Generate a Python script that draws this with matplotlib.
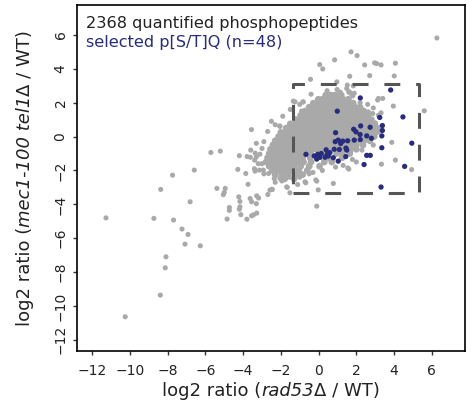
import matplotlib
matplotlib.use("Agg")
import matplotlib.pyplot as plt
from matplotlib.transforms import IdentityTransform

plt.rcParams['font.family'] = ['DejaVu Sans']

# ---------------- data ----------------
x_ticks = [-12, -10, -8, -6, -4, -2, 0, 2, 4, 6]
y_ticks = [-12, -10, -8, -6, -4, -2, 0, 2, 4, 6]

# sparse gray phosphopeptides (outliers / halo)
gray_x = [6.27, 1.72, 2.04, 0.85, 0.06, 0.22, 2.44, 2.97, 3.31, 4.07, 1.65, 2.71, 4.01, -0.43,
          0.97, 1.52, 5.60, -1.34, -0.84, 3.13, 3.40, 3.96, 0.98, 1.60, 1.89, -3.56, -2.05,
          -5.71, -5.21, -4.20, -3.79, -3.62, -3.36, -3.11, -3.39, -2.72, -4.28, -3.86, -3.37,
          -3.14, -2.93, -2.65, -3.74, -7.74, -6.59, -8.37, -5.39, -4.95, -5.05, -5.00, -6.81,
          -4.23, -4.17, -3.63, -3.18, -3.30, -4.73, -4.73, -4.20, -4.17, -2.69, -2.58, -2.45,
          -8.73, -7.69, -7.24, -4.85, -4.12, -3.80, -3.45, -3.28, -3.55, -11.27, -6.92, -7.08,
          -6.27, -8.09, -8.13, -8.39, -10.25, -2.05, -1.66, -1.69, -1.52, -1.11, -0.10, -2.06,
          3.31, 2.87, 3.17, 3.88, 4.07, 3.33, 1.60, 1.79, 4.93,
          -0.46, 0.34, 0.60, 0.78, 1.49, 1.84, 1.63, 1.72, 1.81, 3.17, 2.64, 2.90, 3.17,
          -1.25, -0.81, 3.08, -0.10, 0.78, -0.72, -2.49, -3.28, -3.55, -0.15, -0.68, -0.02,
          1.55, -3.60, -3.30, -3.00, -3.40, -2.90, -2.90, -2.70, -3.00, -2.50, -1.90, -1.50,
          -1.00, -3.20, -2.30, -1.00, -0.50, 0.20, 0.90, 1.30, 2.00, 2.30, 2.90, 3.00, 2.60,
          2.20, -0.40, -0.90, -2.30, -3.30, -2.35, -1.95, -1.55, 1.15, 0.45, -0.30]
gray_y = [5.82, 5.00, 4.78, 4.53, 4.25, 3.99, 4.23, 4.35, 4.23, 4.33, 3.56, 3.60, 3.58, 3.38,
          3.23, 3.04, 1.52, 2.09, 2.04, 2.16, 2.25, 1.80, 2.78, 2.62, 2.56, 0.41, 0.60,
          -0.94, -0.86, -1.13, -1.18, -1.22, -0.98, -1.04, -1.39, -1.23, -1.94, -2.18, -2.04,
          -1.98, -1.98, -2.18, -2.82, -2.28, -1.98, -3.12, -3.06, -3.06, -3.43, -3.30, -3.85,
          -3.56, -3.83, -3.66, -3.63, -3.96, -4.19, -4.36, -4.29, -4.15, -3.42, -3.16, -3.12,
          -4.83, -4.93, -5.46, -4.87, -4.61, -4.88, -4.62, -4.52, -4.68, -4.80, -5.78, -6.35,
          -6.45, -7.10, -7.75, -9.36, -10.64, -2.47, -3.00, -2.97, -3.32, -2.83, -4.11, 0.63,
          1.40, 1.36, 0.28, -0.34, -1.39, -1.63, -1.92, -1.35, -1.95,
          1.56, 2.34, 2.28, 2.48, 2.84, 2.99, 2.64, 2.54, 2.40, 2.25, 1.46, 1.69, 1.26,
          2.05, 2.05, 4.31, -2.63, -2.77, -2.67, -3.12, -3.50, -3.85, -2.56, -2.73, -3.15,
          -1.85, -0.80, -1.20, -1.60, -1.90, -2.20, -0.30, 0.30, -0.70, 0.90, 1.20, 1.60,
          1.90, -1.60, -2.70, -2.40, -2.20, -2.00, -1.80, -1.70, -1.50, -0.80, -0.50, 0.80,
          1.90, 2.00, 2.50, 1.50, 0.70, -0.40, -2.48, -2.62, -2.40, 2.62, 2.71, -2.12]

# dense core of the gray cloud, one row per y level
core_row_y = [2.45, 2.2, 1.97, 1.73, 1.5, 1.25, 1.0, 0.75, 0.5, 0.25, 0.0, -0.25, -0.5,
              -0.75, -1.0, -1.25, -1.5, -1.75, -2.0, -2.25, -2.5]
core_row_x = [
    [0.38, 0.62, 0.9, 1.2],
    [-0.02, 0.2, 0.42, 0.63, 0.85, 1.05, 1.3, 1.58],
    [-0.28, -0.05, 0.15, 0.35, 0.55, 0.75, 0.95, 1.15, 1.35, 1.55, 1.83],
    [-0.5, -0.25, -0.05, 0.15, 0.35, 0.55, 0.75, 0.95, 1.15, 1.35, 1.55, 1.75, 1.95, 2.2],
    [-0.72, -0.5, -0.3, -0.1, 0.1, 0.3, 0.5, 0.7, 0.9, 1.1, 1.3, 1.5, 1.7, 1.9, 2.1, 2.4],
    [-0.95, -0.7, -0.5, -0.3, -0.1, 0.1, 0.3, 0.5, 0.7, 0.9, 1.1, 1.3, 1.5, 1.7, 1.9, 2.1,
     2.3, 2.6],
    [-1.2, -0.95, -0.75, -0.55, -0.35, -0.15, 0.05, 0.25, 0.45, 0.65, 0.85, 1.05, 1.25,
     1.45, 1.65, 1.85, 2.05, 2.25, 2.5, 2.8],
    [-1.5, -1.25, -1.05, -0.85, -0.65, -0.45, -0.25, -0.05, 0.15, 0.35, 0.55, 0.75, 0.95,
     1.15, 1.35, 1.55, 1.75, 1.95, 2.15, 2.4, 2.65, 2.98],
    [-1.72, -1.5, -1.3, -1.1, -0.9, -0.7, -0.5, -0.3, -0.1, 0.1, 0.3, 0.5, 0.7, 0.9, 1.1,
     1.3, 1.5, 1.7, 1.9, 2.1, 2.35, 2.6, 2.9, 3.12],
    [-2.0, -1.75, -1.55, -1.35, -1.15, -0.95, -0.75, -0.55, -0.35, -0.15, 0.05, 0.25, 0.45,
     0.65, 0.85, 1.05, 1.25, 1.45, 1.65, 1.9, 2.15, 2.45, 2.72, 3.02],
    [-2.12, -1.9, -1.7, -1.5, -1.3, -1.1, -0.9, -0.7, -0.5, -0.3, -0.1, 0.1, 0.3, 0.5, 0.7,
     0.9, 1.1, 1.3, 1.5, 1.75, 2.0, 2.3, 2.62, 2.95],
    [-2.3, -2.05, -1.85, -1.65, -1.45, -1.25, -1.05, -0.85, -0.65, -0.45, -0.25, -0.05,
     0.15, 0.35, 0.55, 0.75, 0.95, 1.2, 1.5, 1.8, 2.05, 2.4, 2.72],
    [-2.42, -2.2, -2.0, -1.8, -1.6, -1.4, -1.2, -1.0, -0.8, -0.6, -0.4, -0.2, 0.0, 0.2, 0.4,
     0.6, 0.85, 1.1, 1.4, 1.7, 2.0, 2.35],
    [-2.55, -2.3, -2.1, -1.9, -1.7, -1.5, -1.3, -1.1, -0.9, -0.7, -0.5, -0.3, -0.1, 0.15,
     0.6, 1.25, 1.7, 2.0],
    [-2.62, -2.4, -2.2, -2.0, -1.8, -1.6, -1.4, -1.2, -1.0, -0.8, -0.45, 0.3, 0.95, 1.25, 1.65],
    [-2.7, -2.5, -2.3, -2.1, -1.9, -1.7, -1.5, -1.3, -1.1, -0.85, -0.45, 0.55, 1.25],
    [-2.78, -2.55, -2.35, -2.15, -1.95, -1.75, -1.55, -1.35, -1.1, -0.8, -0.4, 0.3, 0.7],
    [-2.62, -2.4, -2.2, -2.0, -1.8, -1.55, -1.3, -0.95, -0.5, 0.05],
    [-2.45, -2.2, -1.95, -1.7, -1.4, -1.05, -0.6],
    [-2.3, -1.95, -1.6, -1.2, -0.85],
    [-1.8, -1.3],
]

# selected p[S/T]Q phosphopeptides (n=48)
blue_x = [3.82, 2.21, 0.99, 4.47, 3.24, 3.38, 3.38, 3.35, 2.23, 2.73, 1.86, 1.98, 2.20, 2.55,
          2.80, 2.21, 0.90, 0.88, 1.04, 1.28, 1.54, 1.89, 1.17, 4.94, 3.35, 0.83, 1.10, 1.45,
          1.49, 0.40, 0.46, 0.14, -0.67, -0.23, -0.10, 0.07, 0.34, 0.51, 0.78, 1.04, 1.44,
          2.55, 2.74, 2.41, 4.56, 3.31, -0.05, 0.60]
blue_y = [2.75, 2.28, 1.50, 1.16, 1.13, 0.65, 0.36, 0.04, 0.63, 0.55, 0.43, 0.28, 0.12, 0.04,
          -0.10, -0.18, 0.23, -0.30, -0.21, -0.27, -0.25, -0.21, -0.41, -0.39, -0.66, -0.75,
          -0.76, -0.68, -0.80, -0.78, -1.04, -1.00, -1.05, -1.14, -1.33, -1.23, -1.22, -1.15,
          -1.25, -1.45, -1.18, -1.11, -1.11, -1.65, -1.76, -2.98, -1.05, -0.95]

box_x = [-1.37, 5.34]
box_y = [-3.35, 3.08]

label_total = "2368 quantified phosphopeptides"
label_sel = "selected p[S/T]Q (n=48)"
xlabel_parts = [("log2 ratio (", "normal"), ("rad53", "italic"), ("\u0394 / WT)", "normal")]
ylabel_parts = [("log2 ratio (", "normal"), ("mec1-100 tel1", "italic"), ("\u0394 / WT)", "normal")]

# ---------------- figure ----------------
GRAY = '#a9a9a9'
BLUE = '#272d7c'
TXT = '#222222'

fig = plt.figure(figsize=(4.72, 4.17), dpi=100)
ax = fig.add_axes([77.3 / 472, 1 - 351 / 417, (465 - 77.3) / 472, (351 - 5.3) / 417])

cx, cy = [], []
for yv, xs in zip(core_row_y, core_row_x):
    cx.extend(xs)
    cy.extend([yv] * len(xs))

ax.scatter(cx, cy, s=24, c=GRAY, edgecolors='none', zorder=2)
ax.scatter(gray_x, gray_y, s=13.5, c=GRAY, edgecolors='none', zorder=2)
ax.scatter(blue_x, blue_y, s=14.5, c=BLUE, edgecolors='none', zorder=4)

# dashed selection rectangle
rx = [box_x[0], box_x[1], box_x[1], box_x[0], box_x[0]]
ry = [box_y[0], box_y[0], box_y[1], box_y[1], box_y[0]]
ax.plot(rx, ry, color='#555555', lw=2.2, linestyle=(0, (5.2, 5.2)),
        dash_capstyle='butt', zorder=3)

ax.set_xlim(-12.79, 7.76)
ax.set_ylim(-12.66, 7.75)
ax.set_xticks(x_ticks)
ax.set_yticks(y_ticks)
ax.set_xticklabels([str(t).replace('-', '\u2212') for t in x_ticks], fontsize=10, color=TXT)
ax.set_yticklabels([str(t).replace('-', '\u2212') for t in y_ticks], fontsize=10, color=TXT,
                   rotation=90, va='center')
ax.tick_params(axis='both', direction='out', length=3.0, width=1.0, color='#333333')
ax.tick_params(axis='x', pad=6.5)
ax.tick_params(axis='y', pad=4)
for sp in ax.spines.values():
    sp.set_linewidth(1.2)
    sp.set_color('black')

ax.text(0.022, 0.946, label_total, transform=ax.transAxes, fontsize=11.6, color=TXT,
        ha='left', va='center')
ax.text(0.022, 0.891, label_sel, transform=ax.transAxes, fontsize=11.6, color=BLUE,
        ha='left', va='center')


def rich_label(parts, cx_px, cy_px, size, rotation=0):
    """Draw a label made of upright/italic pieces, centred at pixel (cx, cy)."""
    renderer = fig.canvas.get_renderer()
    objs, lens = [], []
    for s, style in parts:
        t = fig.text(0, 0, s, fontsize=size, fontstyle=style, color=TXT,
                     rotation=0, rotation_mode='anchor', ha='left', va='baseline',
                     transform=IdentityTransform())
        lens.append(t.get_window_extent(renderer).width)
        t.set_rotation(rotation)
        objs.append(t)
    pos = -sum(lens) / 2
    for t, L in zip(objs, lens):
        if rotation == 0:
            t.set_position((cx_px + pos, cy_px))
        else:
            t.set_position((cx_px, cy_px + pos))
        pos += L


# x label: baseline ~396 px from top; y label: baseline ~30 px from left
rich_label(xlabel_parts, 271, 417 - 396, 13)
rich_label(ylabel_parts, 30, 417 - 178, 13, rotation=90)

fig.savefig('out.png', dpi=100)
